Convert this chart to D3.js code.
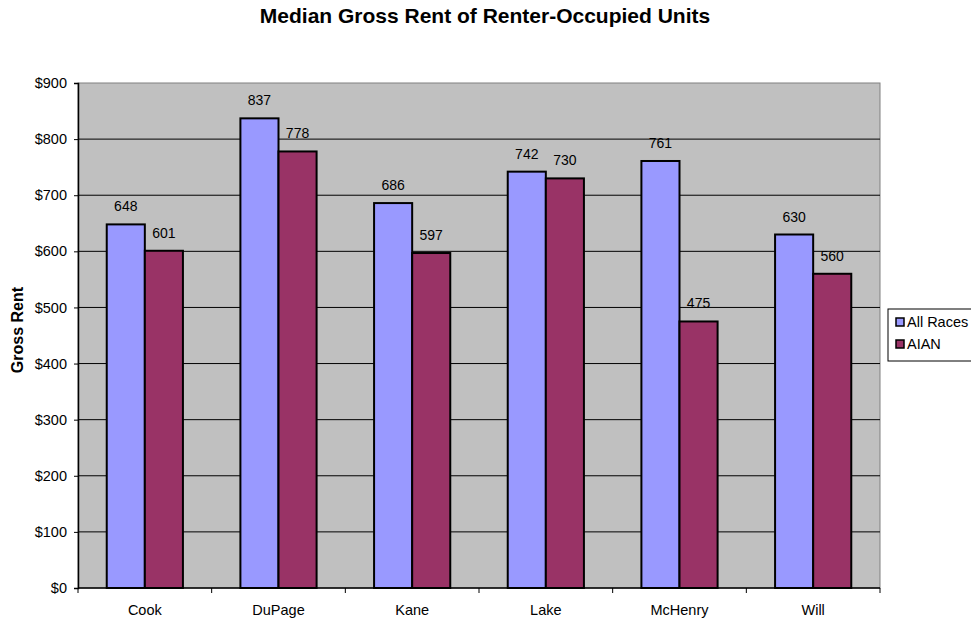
<!DOCTYPE html>
<html>
<head>
<meta charset="utf-8">
<script src="https://cdn.jsdelivr.net/npm/d3@7"></script>
<style>
  body { margin: 0; background: #fff; }
  text { font-family: Arial, "Liberation Sans", sans-serif; }
</style>
</head>
<body>
<div id="container"></div>
<script>
const counties = ['Cook', 'DuPage', 'Kane', 'Lake', 'McHenry', 'Will'];
const allRaces = [648, 837, 686, 742, 761, 630];
const aian = [601, 778, 597, 730, 475, 560];
const seriesNames = ['All Races', 'AIAN'];
const yTicks = [0, 100, 200, 300, 400, 500, 600, 700, 800, 900];

const width = 971, height = 622;
const margin = { top: 83, right: 91, bottom: 34, left: 78 };
const innerWidth = width - margin.left - margin.right;
const innerHeight = height - margin.top - margin.bottom;
const colors = ['#9999ff', '#993366'];
const font = 'Arial, "Liberation Sans", sans-serif';

const svg = d3.select('#container').append('svg').attr('width', width).attr('height', height);

svg.append('text').attr('x', 485).attr('y', 23).attr('text-anchor', 'middle')
  .attr('font-size', 21).attr('font-weight', 'bold').text('Median Gross Rent of Renter-Occupied Units');

const g = svg.append('g').attr('transform', `translate(${margin.left},${margin.top})`);

const x = d3.scaleBand().domain(counties).range([0, innerWidth]).paddingInner(0.43).paddingOuter(0.215);
const xs = d3.scaleBand().domain(seriesNames).range([0, x.bandwidth()]);
const y = d3.scaleLinear().domain([0, 900]).range([innerHeight, 0]);

g.append('rect').attr('width', innerWidth).attr('height', innerHeight).attr('fill', '#c0c0c0')
  .attr('stroke', '#808080').attr('stroke-width', 1);

yTicks.slice(1, -1).forEach(t => {
  g.append('line').attr('x1', 0).attr('x2', innerWidth).attr('y1', y(t)).attr('y2', y(t))
    .attr('stroke', '#000').attr('stroke-width', 1);
});

// y axis
const yAxis = g.append('g').call(d3.axisLeft(y).tickValues(yTicks).tickSize(4).tickPadding(7).tickFormat(d => '$' + d));
yAxis.select('.domain').attr('stroke', '#000').attr('stroke-width', 1.5);
yAxis.selectAll('text').attr('font-size', 14.5).attr('fill', '#000').attr('font-family', font);

// x axis with ticks at category boundaries
const xAxis = g.append('g').attr('transform', `translate(0,${innerHeight})`);
xAxis.append('line').attr('x1', 0).attr('x2', innerWidth).attr('stroke', '#000').attr('stroke-width', 1.5);
d3.range(counties.length + 1).forEach(i => {
  const px = i * x.step();
  xAxis.append('line').attr('x1', px).attr('x2', px).attr('y1', 0).attr('y2', 5).attr('stroke', '#000');
});
counties.forEach(c => {
  xAxis.append('text').attr('x', x(c) + x.bandwidth() / 2).attr('y', 27).attr('text-anchor', 'middle')
    .attr('font-size', 14.5).text(c);
});

svg.append('text').attr('transform', `translate(23,330) rotate(-90)`)
  .attr('text-anchor', 'middle').attr('font-size', 16).attr('font-weight', 'bold').text('Gross Rent');

const series = [allRaces, aian];
series.forEach((vals, si) => {
  counties.forEach((c, i) => {
    const bx = x(c) + xs(seriesNames[si]);
    g.append('rect').attr('x', bx).attr('y', y(vals[i])).attr('width', xs.bandwidth())
      .attr('height', innerHeight - y(vals[i])).attr('fill', colors[si])
      .attr('stroke', '#000').attr('stroke-width', 2);
    g.append('text').attr('x', bx + xs.bandwidth() / 2).attr('y', y(vals[i]) - 13)
      .attr('text-anchor', 'middle').attr('font-size', 14).text(vals[i]);
  });
});

// legend
const lg = svg.append('g').attr('transform', 'translate(888,309)');
lg.append('rect').attr('width', 90).attr('height', 52).attr('fill', '#fff').attr('stroke', '#000');
seriesNames.forEach((s, i) => {
  lg.append('rect').attr('x', 8).attr('y', 9 + i * 22).attr('width', 8).attr('height', 8)
    .attr('fill', colors[i]).attr('stroke', '#000').attr('stroke-width', 1.5);
  lg.append('text').attr('x', 19).attr('y', 18 + i * 22).attr('font-size', 14.5).text(s);
});
</script>
</body>
</html>
